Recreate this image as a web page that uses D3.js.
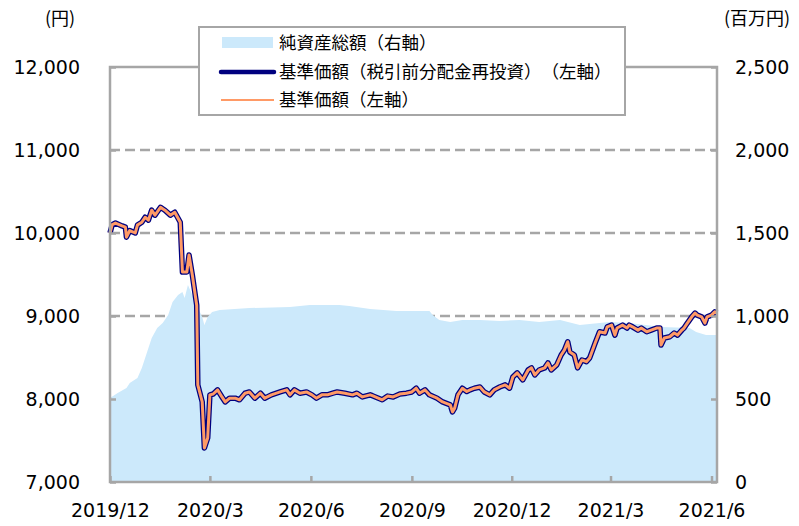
<!DOCTYPE html>
<html>
<head>
<meta charset="utf-8">
<script src="https://cdn.jsdelivr.net/npm/d3@7"></script>
<style>
  body { margin: 0; background: #fff; }
  svg { display: block; }
  text { text-spacing-trim: space-all; }
</style>
</head>
<body>
<svg id="chart" width="799" height="526"></svg>
<script>
// 基準価額 (円) - both lines share these values (no distributions paid)
const priceDates = ["2019-12-01","2019-12-03","2019-12-06","2019-12-12","2019-12-15","2019-12-16","2019-12-19","2019-12-24","2019-12-26","2019-12-30",
  "2020-01-02","2020-01-05","2020-01-08","2020-01-11","2020-01-16","2020-01-20","2020-01-25","2020-01-29","2020-02-03","2020-02-05",
  "2020-02-09","2020-02-11","2020-02-14","2020-02-18","2020-02-19","2020-02-23","2020-02-25","2020-02-28","2020-03-01","2020-03-04",
  "2020-03-08","2020-03-12","2020-03-15","2020-03-19","2020-03-24","2020-03-28","2020-04-02","2020-04-06","2020-04-11","2020-04-16",
  "2020-04-20","2020-04-26","2020-05-04","2020-05-10","2020-05-13","2020-05-17","2020-05-22","2020-05-28","2020-06-02","2020-06-06",
  "2020-06-11","2020-06-16","2020-06-21","2020-06-25","2020-07-02","2020-07-09","2020-07-13","2020-07-18","2020-07-25","2020-07-27",
  "2020-08-05","2020-08-10","2020-08-15","2020-08-21","2020-08-27","2020-09-01","2020-09-05","2020-09-08","2020-09-13","2020-09-17",
  "2020-09-24","2020-09-29","2020-10-06","2020-10-08","2020-10-10","2020-10-13","2020-10-17","2020-10-21","2020-10-24","2020-10-28",
  "2020-11-02","2020-11-06","2020-11-11","2020-11-15","2020-11-20","2020-11-25","2020-11-29","2020-12-02","2020-12-06","2020-12-11",
  "2020-12-16","2020-12-19","2020-12-22","2020-12-26","2020-12-31","2021-01-03","2021-01-06","2021-01-11","2021-01-15","2021-01-18",
  "2021-01-21","2021-01-23","2021-01-27","2021-01-30","2021-02-03","2021-02-07","2021-02-10","2021-02-15","2021-02-19","2021-02-24",
  "2021-02-26","2021-03-02","2021-03-05","2021-03-07","2021-03-12","2021-03-16","2021-03-18","2021-03-21","2021-03-26","2021-03-29",
  "2021-04-03","2021-04-07","2021-04-12","2021-04-15","2021-04-16","2021-04-19","2021-04-24","2021-04-28","2021-05-01","2021-05-05",
  "2021-05-07","2021-05-10","2021-05-14","2021-05-17","2021-05-19","2021-05-23","2021-05-26","2021-05-28","2021-06-01","2021-06-04",
  "2021-06-06"];
const priceValues = [10000,10100,10120,10085,10070,9950,10030,10000,10095,10130,
  10190,10155,10275,10215,10310,10275,10215,10250,10130,9530,
  9530,9735,9495,9130,8170,7965,7410,7530,8050,8060,
  8110,8025,7965,8010,8010,7990,8070,8085,8010,8070,
  8010,8050,8085,8110,8050,8110,8070,8085,8050,8010,
  8050,8050,8070,8085,8070,8050,8070,8025,8050,8040,
  7990,8035,8025,8060,8070,8085,8130,8070,8110,8050,
  8010,7965,7930,7845,7890,8050,8130,8090,8110,8130,
  8145,8085,8050,8110,8145,8170,8130,8265,8315,8230,
  8350,8375,8290,8350,8375,8435,8350,8410,8530,8590,
  8690,8565,8530,8375,8470,8450,8495,8675,8810,8795,
  8870,8890,8770,8855,8890,8855,8890,8870,8830,8855,
  8810,8830,8855,8855,8650,8735,8750,8795,8770,8830,
  8855,8915,8990,9035,9010,8990,8915,8990,9010,9050,
  9035];
const reinvestValues = priceValues.slice();

// 純資産総額 (百万円)
const navDates = ["2019-12-01","2019-12-08","2019-12-16","2019-12-19","2019-12-26","2019-12-30","2020-01-05","2020-01-08","2020-01-13","2020-01-18",
  "2020-01-23","2020-01-27","2020-02-01","2020-02-05","2020-02-07","2020-02-10","2020-02-14","2020-02-18","2020-02-23","2020-02-25",
  "2020-02-28","2020-03-03","2020-03-10","2020-04-06","2020-05-13","2020-05-31","2020-06-27","2020-07-06","2020-07-25","2020-08-18",
  "2020-09-17","2020-09-20","2020-09-26","2020-10-06","2020-10-17","2020-11-02","2020-11-20","2020-12-08","2020-12-26","2021-01-14",
  "2021-02-01","2021-02-28","2021-03-18","2021-04-17","2021-05-12","2021-05-18","2021-05-27","2021-06-06"];
const navValues = [506,536,566,596,627,687,807,867,928,958,
  1006,1084,1127,1145,1108,1187,1127,1066,994,946,
  994,1024,1036,1048,1054,1066,1066,1060,1042,1030,
  1030,1006,976,964,976,976,970,976,964,976,
  946,964,958,934,928,904,886,886];

const tickLabels = ["2019/12","2020/3","2020/6","2020/9","2020/12","2021/3","2021/6"];
const leftTicks = [7000,8000,9000,10000,11000,12000];
const rightTicks = [0,500,1000,1500,2000,2500];
const legendLabels = ["純資産総額（右軸）","基準価額（税引前分配金再投資）（左軸）","基準価額（左軸）"];

const parseDay = d3.timeParse("%Y-%m-%d");
const parseMonth = d3.timeParse("%Y/%m");

const svg = d3.select("#chart");
const margin = {top: 67, right: 82, bottom: 44, left: 110};
const W = 799, H = 526;
const gray = "#a6a6a6";
const numFont = "'DejaVu Sans', Verdana, sans-serif";
const jpFont = "'Noto Sans CJK JP', sans-serif";

const x = d3.scaleTime()
  .domain([parseDay("2019-12-01"), parseDay("2021-06-06")])
  .range([margin.left, W - margin.right]);
const yL = d3.scaleLinear().domain([7000, 12000]).range([H - margin.bottom, margin.top]);
const yR = d3.scaleLinear().domain([0, 2500]).range([H - margin.bottom, margin.top]);

const price = priceDates.map((d, i) => ({date: parseDay(d), v: priceValues[i], r: reinvestValues[i]}));
const nav = navDates.map((d, i) => ({date: parseDay(d), v: navValues[i]}));

// gridlines (behind the area)
svg.append("g")
  .selectAll("line")
  .data(leftTicks.filter(t => t > 7000 && t < 12000))
  .join("line")
    .attr("x1", margin.left).attr("x2", W - margin.right)
    .attr("y1", d => yL(d)).attr("y2", d => yL(d))
    .attr("stroke", gray).attr("stroke-width", 2.5)
    .attr("stroke-dasharray", "10,5");

// net assets area
svg.append("path")
  .datum(nav)
  .attr("fill", "#cce9fb")
  .attr("d", d3.area().x(d => x(d.date)).y0(yR(0)).y1(d => yR(d.v)));

// reinvested price (navy, thick) then price (orange) on top
svg.append("path")
  .datum(price)
  .attr("fill", "none")
  .attr("stroke", "#00007f")
  .attr("stroke-width", 5.5)
  .attr("stroke-linejoin", "round")
  .attr("d", d3.line().x(d => x(d.date)).y(d => yL(d.r)));

svg.append("path")
  .datum(price)
  .attr("fill", "none")
  .attr("stroke", "#ff9a66")
  .attr("stroke-width", 3)
  .attr("stroke-linejoin", "round")
  .attr("d", d3.line().x(d => x(d.date)).y(d => yL(d.v)));

// frame
svg.append("rect")
  .attr("x", margin.left).attr("y", margin.top)
  .attr("width", W - margin.left - margin.right)
  .attr("height", H - margin.top - margin.bottom)
  .attr("fill", "none").attr("stroke", gray).attr("stroke-width", 2.5);

// axes
const leftAxis = svg.append("g")
  .attr("transform", `translate(${margin.left},0)`)
  .call(d3.axisRight(yL).tickValues(leftTicks).tickSize(6).tickFormat(d3.format(",")));
leftAxis.selectAll("text")
  .attr("x", -30).attr("text-anchor", "end")
  .attr("font-family", numFont).attr("font-size", 19).attr("fill", "#000");

const rightAxis = svg.append("g")
  .attr("transform", `translate(${W - margin.right},0)`)
  .call(d3.axisLeft(yR).tickValues(rightTicks).tickSize(6).tickFormat(d3.format(",")));
rightAxis.selectAll("text")
  .attr("x", 18).attr("text-anchor", "start")
  .attr("font-family", numFont).attr("font-size", 19).attr("fill", "#000");

const bottomAxis = svg.append("g")
  .attr("transform", `translate(0,${H - margin.bottom})`)
  .call(d3.axisTop(x).tickValues(tickLabels.map(parseMonth)).tickSize(6).tickFormat(d3.timeFormat("%Y/%-m")));
bottomAxis.selectAll("text")
  .attr("y", 22).attr("dy", "0.71em")
  .attr("font-family", numFont).attr("font-size", 19).attr("fill", "#000");

[leftAxis, rightAxis, bottomAxis].forEach(a => {
  a.select(".domain").remove();
  a.selectAll(".tick line").attr("stroke", gray).attr("stroke-width", 2.5);
});

// unit labels
svg.append("text").attr("x", 60).attr("y", 25).attr("text-anchor", "middle")
  .attr("font-family", jpFont).attr("font-size", 18).text("(円)");
svg.append("text").attr("x", 757).attr("y", 25).attr("text-anchor", "middle")
  .attr("font-family", jpFont).attr("font-size", 18).text("(百万円)");

// legend
const lg = svg.append("g");
lg.append("rect")
  .attr("x", 199).attr("y", 27).attr("width", 426).attr("height", 88)
  .attr("fill", "#fff").attr("stroke", gray).attr("stroke-width", 2);
const rows = [43, 72, 100];
lg.append("rect").attr("x", 222).attr("y", rows[0] - 6).attr("width", 51).attr("height", 11).attr("fill", "#cce9fb");
lg.append("line").attr("x1", 221).attr("x2", 274).attr("y1", rows[1]).attr("y2", rows[1])
  .attr("stroke", "#00007f").attr("stroke-width", 4.5).attr("stroke-linecap", "round");
lg.append("line").attr("x1", 221).attr("x2", 274).attr("y1", rows[2]).attr("y2", rows[2])
  .attr("stroke", "#ff9a66").attr("stroke-width", 2);
lg.selectAll("text.lab")
  .data(legendLabels)
  .join("text")
    .attr("class", "lab")
    .attr("x", 279).attr("y", (d, i) => rows[i]).attr("dy", "0.36em")
    .attr("font-family", jpFont).attr("font-size", 17.5)
    .text(d => d);
</script>
</body>
</html>
